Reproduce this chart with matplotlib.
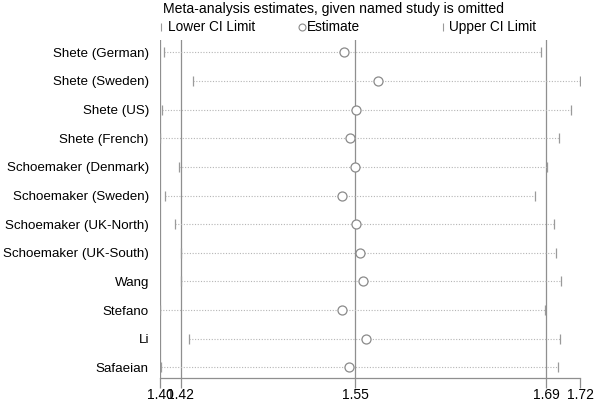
import matplotlib
matplotlib.use("Agg")
import matplotlib.pyplot as plt
from matplotlib.lines import Line2D

plt.rcParams['font.family'] = ['Liberation Sans', 'DejaVu Sans']

studies = ["Shete (German)", "Shete (Sweden)", "Shete (US)", "Shete (French)",
           "Schoemaker (Denmark)", "Schoemaker (Sweden)", "Schoemaker (UK-North)",
           "Schoemaker (UK-South)", "Wang", "Stefano", "Li", "Safaeian"]
lower = [1.4037, 1.4253, 1.4019, 1.4006, 1.4148, 1.4044, 1.4120, 1.4166, 1.4166, 1.4004, 1.4227, 1.4008]
estimate = [1.5402, 1.5661, 1.5496, 1.5448, 1.5484, 1.5384, 1.5491, 1.5526, 1.5547, 1.5389, 1.5568, 1.5440]
upper = [1.6897, 1.7196, 1.7128, 1.7037, 1.6948, 1.6856, 1.6996, 1.7014, 1.7055, 1.6928, 1.7041, 1.7030]
overall_lower = 1.4160
overall_est = 1.5488
overall_upper = 1.6940

W, H = 600, 405
fig = plt.figure(figsize=(6, 4.05), dpi=100)
left_px, right_px, top_px, bot_px = 160, 580, 40, 378
ax = fig.add_axes([left_px / W, 1 - bot_px / H, (right_px - left_px) / W, (bot_px - top_px) / H])

xmin, xmax = min(lower), max(upper)
ax.set_xlim(xmin, xmax)
n = len(studies)
ys = list(range(1, n + 1))
ax.set_ylim(n + 0.37, 0.57)

line_col = '#8f8f8f'
dot_col = '#b5b5b5'
for v in [xmin, overall_lower, overall_est, overall_upper]:
    ax.axvline(v, color=line_col, lw=0.9, zorder=1)

for y, lo, es, up in zip(ys, lower, estimate, upper):
    ax.plot([lo, up], [y, y], ls=(0, (1, 1.5)), color=dot_col, lw=0.8, zorder=2)
ax.plot(lower, ys, ls='none', marker='|', ms=6.5, mew=0.9, color='#9a9a9a', zorder=3)
ax.plot(upper, ys, ls='none', marker='|', ms=6.5, mew=0.9, color='#9a9a9a', zorder=3)
ax.plot(estimate, ys, ls='none', marker='o', ms=6.5, mfc='white', mec='#8a8a8a', mew=0.9, zorder=4)

ax.set_yticks(ys)
ax.set_yticklabels(studies, fontsize=9.6)
ax.tick_params(axis='y', length=0, pad=8)
ticks = [xmin, overall_lower, overall_est, overall_upper, xmax]
ax.set_xticks(ticks)
ax.set_xticklabels([f"{t:.2f}" for t in ticks], fontsize=10)
ax.tick_params(axis='x', length=7, width=0.9, color=line_col, pad=0)
for s in ['top', 'right', 'left']:
    ax.spines[s].set_visible(False)
ax.spines['bottom'].set_color(line_col)
ax.spines['bottom'].set_linewidth(0.9)

fig.text(163 / W, 1 - 9 / H, "Meta-analysis estimates, given named study is omitted",
         fontsize=10.1, va='center', ha='left')
ly = 1 - 27 / H
fig.add_artist(Line2D([161 / W], [ly], marker='|', ms=6, mew=0.8, color='#9a9a9a', transform=fig.transFigure))
fig.text(168 / W, ly, "Lower CI Limit", fontsize=9.8, va='center', ha='left')
fig.add_artist(Line2D([302 / W], [ly], marker='o', ms=5, mfc='white', mec='#8a8a8a', mew=0.8, transform=fig.transFigure))
fig.text(307 / W, ly, "Estimate", fontsize=9.8, va='center', ha='left')
fig.add_artist(Line2D([443 / W], [ly], marker='|', ms=6, mew=0.8, color='#9a9a9a', transform=fig.transFigure))
fig.text(449 / W, ly, "Upper CI Limit", fontsize=9.8, va='center', ha='left')

fig.savefig("out.png", dpi=100)
